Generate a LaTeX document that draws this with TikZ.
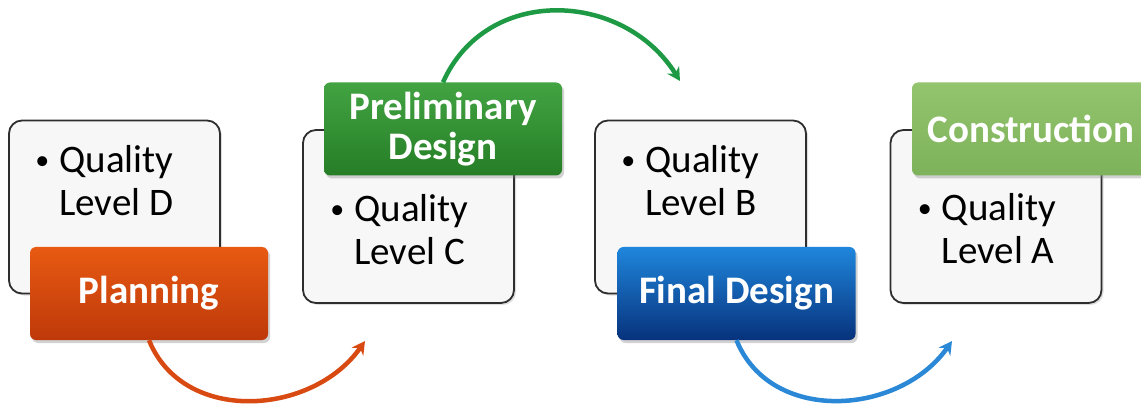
\documentclass[tikz,border=0pt]{standalone}
\usepackage{fontspec}
\setmainfont{Carlito}
\usetikzlibrary{positioning,shadows,arrows.meta}

\newcommand{\levelwidth}[0]{(211pt)}
\newcommand{\levelheight}[0]{(173pt)}
\newcommand{\phasewidth}[0]{(238pt)}
\newcommand{\phaseheight}[0]{(93pt)}
\newcommand{\qbullet}[0]{\raisebox{3pt}{\fontsize{28}{28}\selectfont\textbullet}}
\newcommand{\qlevel}[1]{\begin{tabular}[t]{@{}p{24pt}@{}l@{}}\qbullet & Quality\\ & Level #1\end{tabular}}

\definecolor{levelfill}{HTML}{F7F7F7}
\definecolor{levelline}{HTML}{2E2E2E}
\definecolor{planningtop}{HTML}{E85A12}
\definecolor{planningbot}{HTML}{BE390A}
\definecolor{prelimtop}{HTML}{42A342}
\definecolor{prelimbot}{HTML}{267E26}
\definecolor{finaltop}{HTML}{1F86DC}
\definecolor{finalbot}{HTML}{07327C}
\definecolor{constrtop}{HTML}{93C46E}
\definecolor{constrbot}{HTML}{7DB25A}
\definecolor{planningarrow}{HTML}{D94A12}
\definecolor{prelimarrow}{HTML}{1E9A45}
\definecolor{finalarrow}{HTML}{2A88D6}

\tikzstyle{fedge} = [-{Stealth[length=13pt,width=14pt]},line width=4.5pt]
\tikzstyle{node}=[
  align=center,
  anchor=center,
]
\tikzstyle{level}=[
  node,
  rectangle,
  rounded corners=13pt,
  draw=levelline,
  line width=1.8pt,
  fill=levelfill,
  minimum width=\levelwidth,
  minimum height=\levelheight,
  drop shadow={opacity=0.25,shadow xshift=2pt,shadow yshift=-2pt},
]
\tikzstyle{phase}=[
  node,
  rectangle,
  rounded corners=6pt,
  text=white,
  font=\bfseries\fontsize{39}{40}\selectfont,
  minimum width=\phasewidth,
  minimum height=\phaseheight,
  drop shadow={opacity=0.35,shadow xshift=2pt,shadow yshift=-3pt},
]
\tikzstyle{items}=[
  anchor=base west,
  inner sep=0pt,
  font=\fontsize{39}{43}\selectfont,
]

\begin{document}
\begin{tikzpicture}[x=1pt,y=-1pt]
  \useasboundingbox (0,0) rectangle (1141,406);
  \clip (0,0) rectangle (1141,406);
  \fill[white] (0,0) rectangle (1141,406);

  \node[level] (levelD) at (114.5,207) {};
  \node[level] (levelC) at ([xshift=294pt, yshift=-9.5pt] levelD.center) {};
  \node[level] (levelB) at ([xshift=586pt] levelD.center) {};
  \node[level] (levelA) at ([xshift=295.5pt, yshift=-9.5pt] levelB.center) {};

  \node[items] (itemsD) at ([xshift=27pt, yshift=-53pt] levelD.north west) {\qlevel{D}};
  \node[items] (itemsC) at ([xshift=28pt, yshift=-92pt] levelC.north west) {\qlevel{C}};
  \node[items] (itemsB) at ([xshift=27pt, yshift=-53pt] levelB.north west) {\qlevel{B}};
  \node[items] (itemsA) at ([xshift=28pt, yshift=-91pt] levelA.north west) {\qlevel{A}};

  \node[phase, top color=planningtop, bottom color=planningbot] (planning) at ([xshift=34.5pt, yshift=-86.5pt] levelD.center) {Planning};
  \node[phase, top color=prelimtop, bottom color=prelimbot] (prelim) at ([xshift=34.5pt, yshift=87.5pt] levelC.center) {Preliminary\\Design};
  \node[phase, top color=finaltop, bottom color=finalbot] (final) at ([xshift=36pt, yshift=-86.5pt] levelB.center) {Final Design};
  \node[phase, top color=constrtop, bottom color=constrbot] (construction) at ([xshift=35pt, yshift=87.5pt] levelA.center) {Construction};

  \coordinate (planningend) at (365,341);
  \coordinate (prelimend) at (680,81);
  \coordinate (finalend) at (952,341);
  \draw[fedge, planningarrow] (planning.south) to[out=-68,in=-125,looseness=1.08] (planningend);
  \draw[fedge, prelimarrow] (prelim.north) to[out=66,in=122,looseness=1.15] (prelimend);
  \draw[fedge, finalarrow] (final.south) to[out=-68,in=-125,looseness=1.08] (finalend);
\end{tikzpicture}
\end{document}
